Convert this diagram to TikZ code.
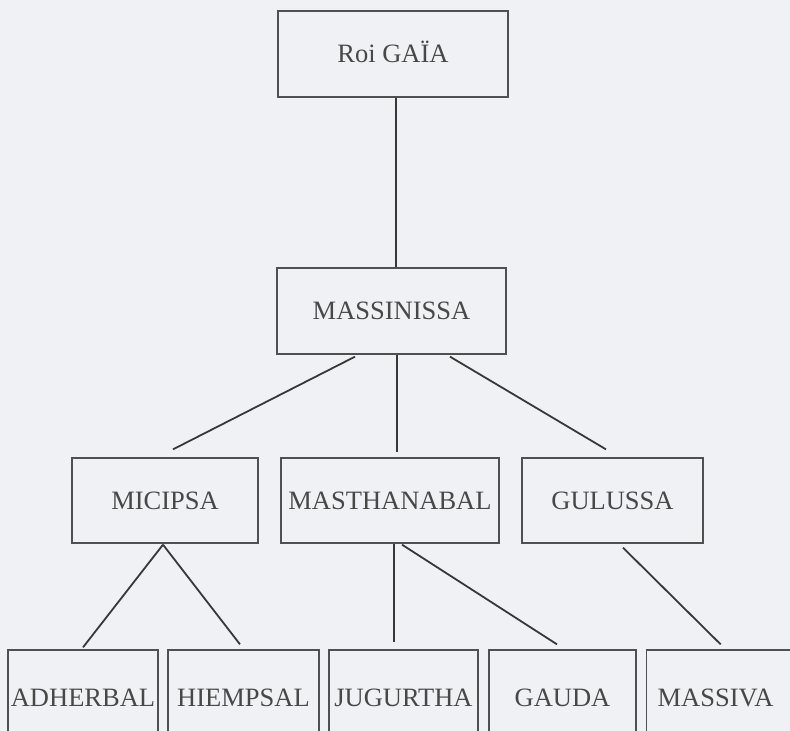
\documentclass[tikz,border=0pt]{standalone}
\usepackage{fontspec}
\setmainfont{Liberation Serif}
\definecolor{bg}{RGB}{239,241,244}
\definecolor{boxline}{RGB}{80,80,80}
\definecolor{conn}{RGB}{56,56,56}
\definecolor{txt}{RGB}{72,72,72}
\tikzset{
  box/.style={draw=boxline, line width=1.3pt, rectangle, inner sep=0pt,
    text=txt, font=\fontsize{26.5}{30}\selectfont,
    text height=17.5pt, text depth=0pt},
  midbox/.style={box, minimum height=85pt},
  topbox/.style={box, minimum height=86pt},
  lowbox/.style={box, minimum height=96pt},
  link/.style={draw=conn, line width=1.8pt}
}
\begin{document}
\begin{tikzpicture}[x=1pt,y=-1pt]
\fill[bg] (0,0) rectangle (790,731);
\useasboundingbox (0,0) rectangle (790,731);
\clip (0,0) rectangle (790,731);

\node[topbox, minimum width=230pt] (gaia) at (393,54) {Roi GAÏA};
\node[topbox, minimum width=229pt] (mass) at (391.5,311) {MASSINISSA};

\node[midbox, minimum width=186pt] (mic) at (165,500.5) {MICIPSA};
\node[midbox, minimum width=218pt] (mast) at (390,500.5) {MASTHANABAL};
\node[midbox, minimum width=181pt] (gul) at (612.5,500.5) {GULUSSA};

\node[lowbox, minimum width=150pt] (adh) at (83,698) {ADHERBAL};
\node[lowbox, minimum width=151pt] (hie) at (243.5,698) {HIEMPSAL};
\node[lowbox, minimum width=149pt] (jug) at (403.5,698) {JUGURTHA};
\node[lowbox, minimum width=147pt] (gau) at (562.5,698) {GAUDA};
\node[lowbox, text width=160pt, align=left, anchor=west] (mav) at (646,698) {\hspace*{11pt}MASSIVA};

\draw[link] ([xshift=3pt]gaia.south) -- ([xshift=4.5pt]mass.north);

\draw[link] ([xshift=-36.5pt,yshift=-2pt]mass.south) -- ([xshift=8pt,yshift=8pt]mic.north);
\draw[link] ([xshift=5.5pt]mass.south) -- ([xshift=7pt,yshift=5pt]mast.north);
\draw[link] ([xshift=58.5pt,yshift=-2pt]mass.south) -- ([xshift=-6.5pt,yshift=8pt]gul.north);

\draw[link] ([xshift=-2pt,yshift=-1pt]mic.south) -- ([yshift=2pt]adh.north);
\draw[link] ([xshift=-2pt,yshift=-1pt]mic.south) -- ([xshift=-3.5pt,yshift=5pt]hie.north);

\draw[link] ([xshift=4pt]mast.south) -- ([xshift=-9.5pt,yshift=7pt]jug.north);
\draw[link] ([xshift=12pt,yshift=-1pt]mast.south) -- ([xshift=-5.5pt,yshift=5pt]gau.north);

\draw[link] ([xshift=10.5pt,yshift=-4pt]gul.south) -- ([xshift=-6pt,yshift=5pt]mav.north);
\end{tikzpicture}
\end{document}
